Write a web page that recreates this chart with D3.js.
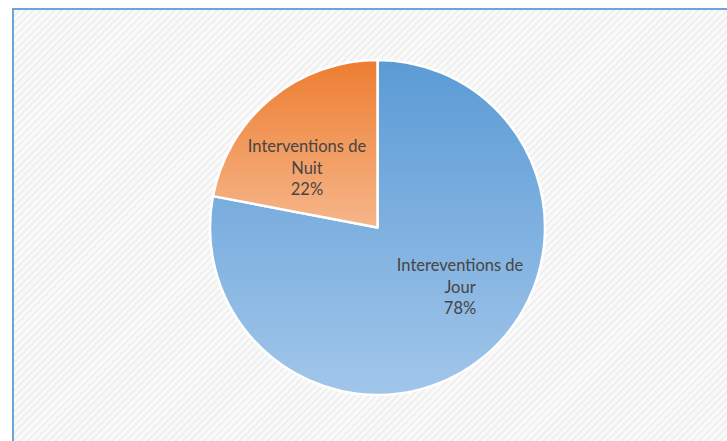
<!DOCTYPE html>
<html>
<head>
<meta charset="utf-8">
<script src="https://cdn.jsdelivr.net/npm/d3@7"></script>
<style>
  body { margin: 0; background: #fff; }
  svg { display: block; }
</style>
</head>
<body>
<script>
// pie of day / night interventions
var categories = ["Intereventions de Jour", "Interventions de Nuit"],
    shares = [78, 22],
    labelLines = [["Intereventions de", "Jour", "78%"], ["Interventions de", "Nuit", "22%"]],
    topColors = ["#5b9bd5", "#ed7d31"],
    bottomColors = ["#a2c6ea", "#f6b68a"];

var w = 727, h = 441,
    cx = 377.5, cy = 227.5,
    r = 167.5;

var svg = d3.select("body").append("svg")
  .attr("width", w)
  .attr("height", h);

var defs = svg.append("defs");

// diagonal hatch background
var pat = defs.append("pattern")
  .attr("id", "hatch")
  .attr("patternUnits", "userSpaceOnUse")
  .attr("width", 5).attr("height", 5)
  .attr("patternTransform", "rotate(45)");
pat.append("rect").attr("width", 5).attr("height", 5).attr("fill", "#fafafa");
pat.append("rect").attr("width", 2).attr("height", 5).attr("fill", "#efefef");

categories.forEach(function(c, i){
  var g = defs.append("linearGradient")
    .attr("id", "grad" + i)
    .attr("x1", 0).attr("y1", 0).attr("x2", 0).attr("y2", 1);
  g.append("stop").attr("offset", "0%").attr("stop-color", topColors[i]);
  g.append("stop").attr("offset", "100%").attr("stop-color", bottomColors[i]);
});

svg.append("rect")
  .attr("x", 13).attr("y", 9)
  .attr("width", w).attr("height", h)
  .attr("fill", "url(#hatch)")
  .attr("stroke", "#6fa2d8")
  .attr("stroke-width", 2);

var pie = d3.pie().sort(null).value(function(d){ return d; });
var arc = d3.arc().innerRadius(0).outerRadius(r);
var arcs = pie(shares);

var g = svg.append("g").attr("transform", "translate(" + cx + "," + cy + ")");

g.selectAll("path")
  .data(arcs)
  .enter().append("path")
    .attr("d", arc)
    .attr("fill", function(d, i){ return "url(#grad" + i + ")"; })
    .attr("stroke", "#fff")
    .attr("stroke-width", 2.5)
    .attr("stroke-linejoin", "round");

// labels: Excel "best fit" sits a bit before the mid angle and a bit right
var labelR = 97, shift = -12.5 * Math.PI / 180, nudge = 6;
var labels = g.selectAll("text.lbl")
  .data(arcs)
  .enter().append("text")
    .attr("class", "lbl")
    .attr("text-anchor", "middle")
    .style("font-family", "Lato, 'Open Sans', sans-serif")
    .style("font-size", "16.5px")
    .attr("fill", "#454545")
    .attr("transform", function(d){
      var a = (d.startAngle + d.endAngle) / 2 + shift;
      return "translate(" + (nudge + labelR * Math.sin(a)) + "," + (-labelR * Math.cos(a)) + ")";
    });

labels.each(function(d, i){
  var t = d3.select(this), lines = labelLines[i];
  lines.forEach(function(s, k){
    t.append("tspan")
      .attr("x", 0)
      .attr("y", (k - (lines.length - 1) / 2) * 21.5)
      .attr("dy", "0.35em")
      .text(s);
  });
});
</script>
</body>
</html>
